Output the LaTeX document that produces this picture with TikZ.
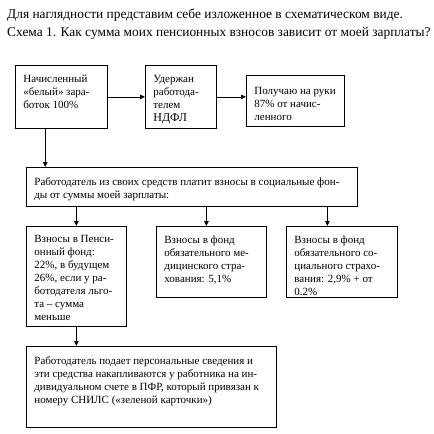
\documentclass[tikz,border=0pt]{standalone}
\usepackage{fontspec}
\setmainfont{Liberation Serif}
\usetikzlibrary{arrows.meta,calc}
\newcommand\boxfont{\fontsize{11}{13}\selectfont}
\tikzset{
  bx/.style={draw, line width=0.8pt, inner xsep=8pt, inner ysep=5pt, anchor=north west},
  arr/.style={line width=0.8pt, -{Triangle[length=5pt,width=4.5pt]}},
  ttl/.style={anchor=base west, inner sep=0pt, font=\fontsize{13.4}{16}\selectfont}
}
\newcommand\mkbox[7][5pt]{%
  \node[bx] (#2) at (#3pt,-#4pt) {\parbox[t][\dimexpr #6pt-#4pt-10pt\relax][t]{\dimexpr #5pt-#3pt-16pt\relax}{\vspace*{#1}\boxfont\raggedright\hbadness=10000 #7}};}
\begin{document}
\begin{tikzpicture}[x=1pt,y=-1pt]
\useasboundingbox[fill=white] (0,0) rectangle (434,434);
\node[ttl] (t1) at (7,18) {Для наглядности представим себе изложенное в схематическом виде.};
\node[ttl] (t2) at (7,36) {Схема 1. Как сумма моих пенсионных взносов зависит от моей зарплаты?};
\mkbox{b1}{15}{65}{107}{128}{Начисленный\\«белый» зара-\\боток 100\%}
\mkbox{b2}{145}{65}{216}{128}{Удержан\\работода-\\телем\\{\fontsize{12}{13}\selectfont НДФЛ}}
\mkbox[7pt]{b3}{246}{75}{344}{126}{Получаю на руки\\87\% от начис-\\ленного}
\mkbox{b4}{26}{167}{357}{206}{Работодатель из своих средств платит взносы в социальные фон-\\ды от суммы моей зарплаты:}
\mkbox[4pt]{b5}{26}{226}{126}{326}{Взносы в Пенси-\\онный фонд:\\22\%, в будущем\\26\%, если у ра-\\ботодателя льго-\\та – сумма\\меньше}
\mkbox[4pt]{b6}{156}{226}{266}{297}{Взносы в фонд\\обязательного ме-\\дицинского стра-\\хования: 5,1\%}
\mkbox[4pt]{b7}{286}{226}{397}{297}{Взносы в фонд\\обязательного со-\\циального страхо-\\вания: 2,9\% + от\\0.2\%}
\mkbox{b8}{26}{346}{276}{427}{Работодатель подает персональные сведения и\\эти средства накапливаются у работника на ин-\\дивидуальном счете в ПФР, который привязан к\\номеру СНИЛС («зеленой карточки»)}
\draw[arr] (b1) -- (b2);
\draw[arr] (b2.east) -- (b2.east -| b3.west);
\coordinate (c1) at ($(b1.south west)!0.326!(b1.south east)$);
\draw[arr] (c1) -- (c1 |- b4.north);
\draw[arr] (b5.north |- b4.south) -- (b5.north);
\draw[arr] ([xshift=-5pt]b6.north |- b4.south) -- ([xshift=-5pt]b6.north);
\draw[arr] ([xshift=-14.5pt]b7.north |- b4.south) -- ([xshift=-14.5pt]b7.north);
\draw[arr] (b5) -- (b8.north -| b5.south);
\end{tikzpicture}
\end{document}
